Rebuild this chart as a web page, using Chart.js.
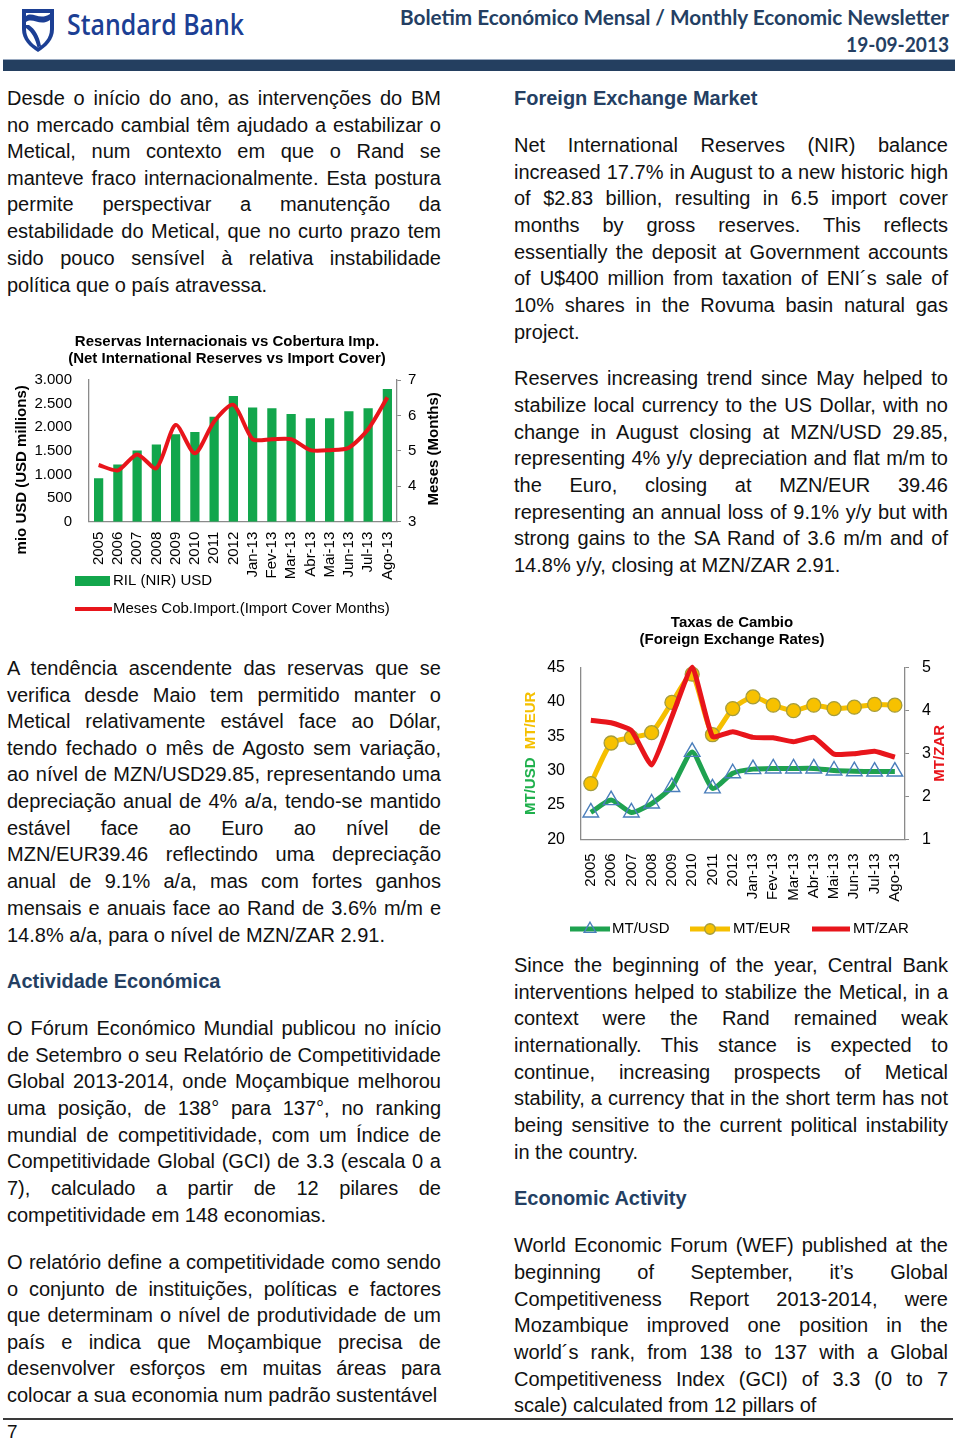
<!DOCTYPE html>
<html>
<head>
<meta charset="utf-8">
<script src="https://cdn.jsdelivr.net/npm/chart.js@4.4.0/dist/chart.umd.min.js"></script>
<style>
html,body{margin:0;padding:0;background:#fff;}
body{width:960px;height:1444px;position:relative;overflow:hidden;font-family:"Liberation Sans",Arial,sans-serif;color:#111;}
.ln{position:absolute;white-space:nowrap;font-size:20px;line-height:24px;height:24px;}
.h{font-weight:bold;color:#243f63;}
.pg{font-size:19px;line-height:16px;height:16px;}
.hdr{position:absolute;white-space:nowrap;font-family:Lato,"Open Sans",sans-serif;font-weight:bold;color:#243f63;font-size:21px;line-height:24px;transform-origin:right center;}
.brand{position:absolute;white-space:nowrap;font-family:"Open Sans",Lato,sans-serif;font-weight:600;color:#1c3f94;font-size:28px;line-height:32px;transform-origin:left center;}
canvas{position:absolute;}
</style>
</head>
<body>
<svg style="position:absolute;left:22px;top:9px" width="32" height="43" viewBox="0 0 32 43">
  <path d="M0 0 H32 V20 C32 31 24 38 16 43 C8 38 0 31 0 20 Z" fill="#1c3f94"/>
  <path d="M4 4 H28 V20 C28 29 22 35 16 38.5 C10 35 4 29 4 20 Z" fill="#fff"/>
  <path d="M4 7 C11 2 17 12 28 5 V11 C18 18 11 8 4 13 Z" fill="#1c3f94"/>
  <path d="M7 16 C13 20 17 27 19 37 L15.5 38.5 C13.5 30 10 23 4 19 V16 Z" fill="#1c3f94"/>
</svg>
<div id="brand" class="brand" style="left:67px;top:8px">Standard Bank</div>
<div id="hd1" class="hdr" style="right:11px;top:5px">Boletim Económico Mensal / Monthly Economic Newsletter</div>
<div id="hd2" class="hdr" style="right:11px;top:32px">19-09-2013</div>
<div style="position:absolute;left:3px;top:59px;width:952px;height:1px;background:#9aaac0"></div>
<div style="position:absolute;left:3px;top:60px;width:952px;height:11px;background:#243f60"></div>
<div style="position:absolute;left:3px;top:1418px;width:950px;height:1.5px;background:#3a3a3a"></div>

<canvas id="c1" width="430" height="295" style="left:12px;top:330px"></canvas>
<canvas id="c2" width="440" height="340" style="left:515px;top:605px"></canvas>

<script>
// ---------- chart data ----------
const categories = ['2005','2006','2007','2008','2009','2010','2011','2012','Jan-13','Fev-13','Mar-13','Abr-13','Mai-13','Jun-13','Jul-13','Ago-13'];
const nirUSD = [920,1210,1510,1635,1850,1900,2220,2660,2420,2400,2280,2190,2190,2340,2400,2810];
const importCoverMonths = [4.6,4.45,4.9,4.51,5.73,4.93,5.83,6.3,5.33,5.33,5.33,5.02,5.02,5.09,5.61,6.51];
const nirTickLabels = ['0','500','1.000','1.500','2.000','2.500','3.000'];
const coverTickLabels = ['3','4','5','6','7'];

const mtUSD = [23.9,25.7,23.9,25.2,27.6,32.7,27.4,29.6,30.2,30.3,30.3,30.3,30.0,29.9,29.85,29.85];
const mtEUR = [28.1,34.0,34.8,35.5,39.9,44.0,35.2,39.0,40.7,39.5,38.7,39.5,39.0,39.2,39.6,39.5];
const mtZAR = [3.77,3.71,3.53,2.73,3.85,5.0,3.39,3.5,3.37,3.36,3.27,3.37,2.98,2.99,3.05,2.91];
const usdEurTickLabels = ['20','25','30','35','40','45'];
const zarTickLabels = ['1','2','3','4','5'];

// ---------- page text ----------
const LX = 7, RX = 514, CW = 434;
const textLines = [
 [LX,97,'Desde o início do ano, as intervenções do BM',1],
 [LX,124,'no mercado cambial têm ajudado a estabilizar o',1],
 [LX,150,'Metical, num contexto em que o Rand se',1],
 [LX,177,'manteve fraco internacionalmente. Esta postura',1],
 [LX,203,'permite perspectivar a manutenção da',1],
 [LX,230,'estabilidade do Metical, que no curto prazo tem',1],
 [LX,257,'sido pouco sensível à relativa instabilidade',1],
 [LX,284,'política que o país atravessa.',0],
 [LX,667,'A tendência ascendente das reservas que se',1],
 [LX,694,'verifica desde Maio tem permitido manter o',1],
 [LX,720,'Metical relativamente estável face ao Dólar,',1],
 [LX,747,'tendo fechado o mês de Agosto sem variação,',1],
 [LX,773,'ao nível de MZN/USD29.85, representando uma',1],
 [LX,800,'depreciação anual de 4% a/a, tendo-se mantido',1],
 [LX,827,'estável face ao Euro ao nível de',1],
 [LX,853,'MZN/EUR39.46 reflectindo uma depreciação',1],
 [LX,880,'anual de 9.1% a/a, mas com fortes ganhos',1],
 [LX,907,'mensais e anuais face ao Rand de 3.6% m/m e',1],
 [LX,934,'14.8% a/a, para o nível de MZN/ZAR 2.91.',0],
 [LX,980,'Actividade Económica',0,'h'],
 [LX,1027,'O Fórum Económico Mundial publicou no início',1],
 [LX,1054,'de Setembro o seu Relatório de Competitividade',1],
 [LX,1080,'Global 2013-2014, onde Moçambique melhorou',1],
 [LX,1107,'uma posição, de 138° para 137°, no ranking',1],
 [LX,1134,'mundial de competitividade, com um Índice de',1],
 [LX,1160,'Competitividade Global (GCI) de 3.3 (escala 0 a',1],
 [LX,1187,'7), calculado a partir de 12 pilares de',1],
 [LX,1214,'competitividade em 148 economias.',0],
 [LX,1261,'O relatório define a competitividade como sendo',1],
 [LX,1288,'o conjunto de instituições, políticas e factores',1],
 [LX,1314,'que determinam o nível de produtividade de um',1],
 [LX,1341,'país e indica que Moçambique precisa de',1],
 [LX,1367,'desenvolver esforços em muitas áreas para',1],
 [LX,1394,'colocar a sua economia num padrão sustentável',0],
 [LX,1432,'7',0,'pg'],
 [RX,97,'Foreign Exchange Market',0,'h'],
 [RX,144,'Net International Reserves (NIR) balance',1],
 [RX,171,'increased 17.7% in August to a new historic high',1],
 [RX,197,'of $2.83 billion, resulting in 6.5 import cover',1],
 [RX,224,'months by gross reserves. This reflects',1],
 [RX,251,'essentially the deposit at Government accounts',1],
 [RX,277,'of U$400 million from taxation of ENI´s sale of',1],
 [RX,304,'10% shares in the Rovuma basin natural gas',1],
 [RX,331,'project.',0],
 [RX,377,'Reserves increasing trend since May helped to',1],
 [RX,404,'stabilize local currency to the US Dollar, with no',1],
 [RX,431,'change in August closing at MZN/USD 29.85,',1],
 [RX,457,'representing 4% y/y depreciation and flat m/m to',1],
 [RX,484,'the Euro, closing at MZN/EUR 39.46',1],
 [RX,511,'representing an annual loss of 9.1% y/y but with',1],
 [RX,537,'strong gains to the SA Rand of 3.6 m/m and of',1],
 [RX,564,'14.8% y/y, closing at MZN/ZAR 2.91.',0],
 [RX,964,'Since the beginning of the year, Central Bank',1],
 [RX,991,'interventions helped to stabilize the Metical, in a',1],
 [RX,1017,'context were the Rand remained weak',1],
 [RX,1044,'internationally. This stance is expected to',1],
 [RX,1071,'continue, increasing prospects of Metical',1],
 [RX,1097,'stability, a currency that in the short term has not',1],
 [RX,1124,'being sensitive to the current political instability',1],
 [RX,1151,'in the country.',0],
 [RX,1197,'Economic Activity',0,'h'],
 [RX,1244,'World Economic Forum (WEF) published at the',1],
 [RX,1271,'beginning of September, it’s Global',1],
 [RX,1298,'Competitiveness Report 2013-2014, were',1],
 [RX,1324,'Mozambique improved one position in the',1],
 [RX,1351,'world´s rank, from 138 to 137 with a Global',1],
 [RX,1378,'Competitiveness Index (GCI) of 3.3 (0 to 7',1],
 [RX,1404,'scale) calculated from 12 pillars of',0]
];
textLines.forEach(([x, yc, t, just, cls]) => {
  const d = document.createElement('div');
  d.className = 'ln' + (cls ? ' ' + cls : '');
  d.style.left = x + 'px';
  d.style.top = (yc - (cls === 'pg' ? 8 : 11)) + 'px';
  d.textContent = t;
  document.body.appendChild(d);
  const nat = d.getBoundingClientRect().width;
  const n = (t.match(/ /g) || []).length;
  if (n && (just || nat > CW)) d.style.wordSpacing = ((CW - nat) / n) + 'px';
});
function fitW(id, w) {
  const el = document.getElementById(id);
  const r = el.getBoundingClientRect().width;
  el.style.transform = 'scaleX(' + (w / r) + ')';
}
fitW('brand', 177);
fitW('hd1', 549);
fitW('hd2', 103);

// ---------- charts ----------
const FONT = '"Liberation Sans", Arial, sans-serif';
Chart.defaults.font.family = FONT;
Chart.defaults.color = '#000';
const AXIS = '#8a8a8a';

const axisTitlePlugin = {
  id: 'axisTitles',
  afterDraw(chart, args, opts) {
    const ctx = chart.ctx, ca = chart.chartArea;
    (opts.titles || []).forEach(t => {
      ctx.save();
      ctx.font = 'bold ' + t.size + 'px ' + FONT;
      const total = t.parts.reduce((s, p) => s + ctx.measureText(p.text).width, 0);
      ctx.translate(t.x, (ca.top + ca.bottom) / 2 + t.dy);
      ctx.rotate(-Math.PI / 2);
      ctx.textBaseline = 'middle';
      ctx.textAlign = 'left';
      let x = -total / 2;
      t.parts.forEach(p => {
        ctx.fillStyle = p.color;
        ctx.fillText(p.text, x, 0);
        x += ctx.measureText(p.text).width;
      });
      ctx.restore();
    });
  }
};

function marker(ctx, style, x, y, r) {
  ctx.beginPath();
  if (style === 'triangle') {
    ctx.moveTo(x, y - r);
    ctx.lineTo(x + r * 0.866, y + r / 2);
    ctx.lineTo(x - r * 0.866, y + r / 2);
    ctx.closePath();
  } else {
    ctx.arc(x, y, r, 0, Math.PI * 2);
  }
}

const legendPlugin = {
  id: 'legendItems',
  afterDraw(chart, args, opts) {
    const ctx = chart.ctx;
    ctx.save();
    ctx.font = opts.size + 'px ' + FONT;
    ctx.textBaseline = 'middle';
    ctx.textAlign = 'left';
    (opts.items || []).forEach(it => {
      const ds = chart.data.datasets[it.index];
      if (it.kind === 'box') {
        ctx.fillStyle = ds.backgroundColor;
        ctx.fillRect(it.x0, it.y - it.h / 2, it.x1 - it.x0, it.h);
      } else {
        ctx.strokeStyle = ds.borderColor;
        ctx.lineWidth = ds.borderWidth;
        ctx.lineCap = 'butt';
        ctx.beginPath();
        ctx.moveTo(it.x0, it.y);
        ctx.lineTo(it.x1, it.y);
        ctx.stroke();
        if (ds.pointRadius > 0) {
          marker(ctx, ds.pointStyle, (it.x0 + it.x1) / 2, it.y, ds.pointRadius * 0.75);
          ctx.fillStyle = ds.pointBackgroundColor;
          ctx.fill();
          ctx.strokeStyle = ds.pointBorderColor;
          ctx.lineWidth = ds.pointBorderWidth;
          ctx.stroke();
        }
      }
      ctx.fillStyle = '#000';
      ctx.fillText(ds.label, it.tx, it.y);
    });
    ctx.restore();
  }
};

new Chart(document.getElementById('c1'), {
  type: 'bar',
  data: {
    labels: categories,
    datasets: [
      {type: 'line', label: 'Meses Cob.Import.(Import Cover Months)', data: importCoverMonths, yAxisID: 'y1',
       borderColor: '#e8151b', borderWidth: 4, pointRadius: 0, tension: 0.25, order: 0, clip: false},
      {type: 'bar', label: 'RIL (NIR) USD', data: nirUSD, yAxisID: 'y',
       backgroundColor: '#12a64c', barPercentage: 0.48, categoryPercentage: 1, order: 1}
    ]
  },
  options: {
    responsive: false, animation: false, devicePixelRatio: 1,
    layout: {padding: 0},
    plugins: {
      legend: {display: false}, tooltip: {enabled: false},
      title: {display: true, text: ['Reservas Internacionais vs Cobertura Imp.', '(Net International Reserves vs Import Cover)'],
        font: {size: 15, weight: 'bold', lineHeight: 1.15}, color: '#000', padding: {top: 3.4, bottom: 12.1}},
      axisTitles: {titles: [
        {x: 10, dy: 19, size: 15, parts: [{text: 'mio USD (USD millions)', color: '#000'}]},
        {x: 422, dy: -2, size: 15, parts: [{text: 'Meses (Months)', color: '#000'}]}
      ]},
      legendItems: {size: 15, items: [
        {index: 1, kind: 'box', x0: 63, x1: 98, y: 251, h: 10, tx: 101},
        {index: 0, kind: 'line', x0: 63, x1: 100, y: 279, tx: 101}
      ]}
    },
    scales: {
      x: {grid: {display: false, drawTicks: false}, border: {color: AXIS, width: 1.3},
          ticks: {minRotation: 90, maxRotation: 90, autoSkip: false, font: {size: 15}, padding: 10},
          afterFit(s) { s.height = 103.3; }},
      y: {position: 'left', min: 0, max: 3000,
          ticks: {stepSize: 500, font: {size: 15}, padding: 17, callback: (v, i) => nirTickLabels[i]},
          grid: {display: false, drawTicks: false}, border: {color: AXIS, width: 1.3},
          afterFit(s) { s.width = 77; }},
      y1: {position: 'right', min: 3, max: 7,
          ticks: {stepSize: 1, font: {size: 15}, padding: 7, callback: (v, i) => coverTickLabels[i]},
          grid: {display: true, drawOnChartArea: false, drawTicks: true, tickLength: 4, color: AXIS},
          border: {color: AXIS, width: 1.3},
          afterFit(s) { s.width = 45; }}
    }
  },
  plugins: [axisTitlePlugin, legendPlugin]
});

new Chart(document.getElementById('c2'), {
  type: 'line',
  data: {
    labels: categories,
    datasets: [
      {label: 'MT/USD', data: mtUSD, yAxisID: 'y', borderColor: '#1fa250', borderWidth: 5, tension: 0.2,
       pointStyle: 'triangle', pointRadius: 9, pointBackgroundColor: 'rgba(255,255,255,0)',
       pointBorderColor: '#4a7ebb', pointBorderWidth: 1.4, order: 2, clip: false},
      {label: 'MT/EUR', data: mtEUR, yAxisID: 'y', borderColor: '#f5bf00', borderWidth: 5, tension: 0.2,
       pointStyle: 'circle', pointRadius: 7, pointBackgroundColor: '#f7c100',
       pointBorderColor: '#a49c3c', pointBorderWidth: 1.3, order: 1, clip: false},
      {label: 'MT/ZAR', data: mtZAR, yAxisID: 'y1', borderColor: '#e8151b', borderWidth: 5, tension: 0.15,
       pointRadius: 0, order: 0, clip: false}
    ]
  },
  options: {
    responsive: false, animation: false, devicePixelRatio: 1,
    layout: {padding: {right: 6}},
    plugins: {
      legend: {display: false}, tooltip: {enabled: false},
      title: {display: true, text: ['Taxas de Cambio', '(Foreign Exchange Rates)'],
        font: {size: 15, weight: 'bold', lineHeight: 1.15}, color: '#000', padding: {top: 9.4, bottom: 18.4}},
      axisTitles: {titles: [
        {x: 15.7, dy: 0, size: 15, parts: [{text: 'MT/USD', color: '#1fb04c'}, {text: '  ', color: '#000'}, {text: 'MT/EUR', color: '#f5c000'}]},
        {x: 425, dy: 0, size: 15, parts: [{text: 'MT/ZAR', color: '#e8151b'}]}
      ]},
      legendItems: {size: 15, items: [
        {index: 0, kind: 'line', x0: 55, x1: 95, y: 324, tx: 97},
        {index: 1, kind: 'line', x0: 175, x1: 215, y: 324, tx: 218},
        {index: 2, kind: 'line', x0: 297, x1: 335, y: 324, tx: 338}
      ]}
    },
    scales: {
      x: {offset: true, grid: {display: false, drawTicks: false}, border: {color: AXIS, width: 1.3},
          ticks: {minRotation: 90, maxRotation: 90, autoSkip: false, font: {size: 15}, padding: 14},
          afterFit(s) { s.height = 105.7; }},
      y: {position: 'left', min: 20, max: 45,
          ticks: {stepSize: 5, font: {size: 16}, padding: 15.7, callback: (v, i) => usdEurTickLabels[i]},
          grid: {display: false, drawTicks: false}, border: {color: AXIS, width: 1.3},
          afterFit(s) { s.width = 65.7; }},
      y1: {position: 'right', min: 1, max: 5,
          ticks: {stepSize: 1, font: {size: 16}, padding: 13, callback: (v, i) => zarTickLabels[i]},
          grid: {display: true, drawOnChartArea: false, drawTicks: true, tickLength: 4, color: AXIS},
          border: {color: AXIS, width: 1.3},
          afterFit(s) { s.width = 44; }}
    }
  },
  plugins: [axisTitlePlugin, legendPlugin]
});
</script>
</body>
</html>
